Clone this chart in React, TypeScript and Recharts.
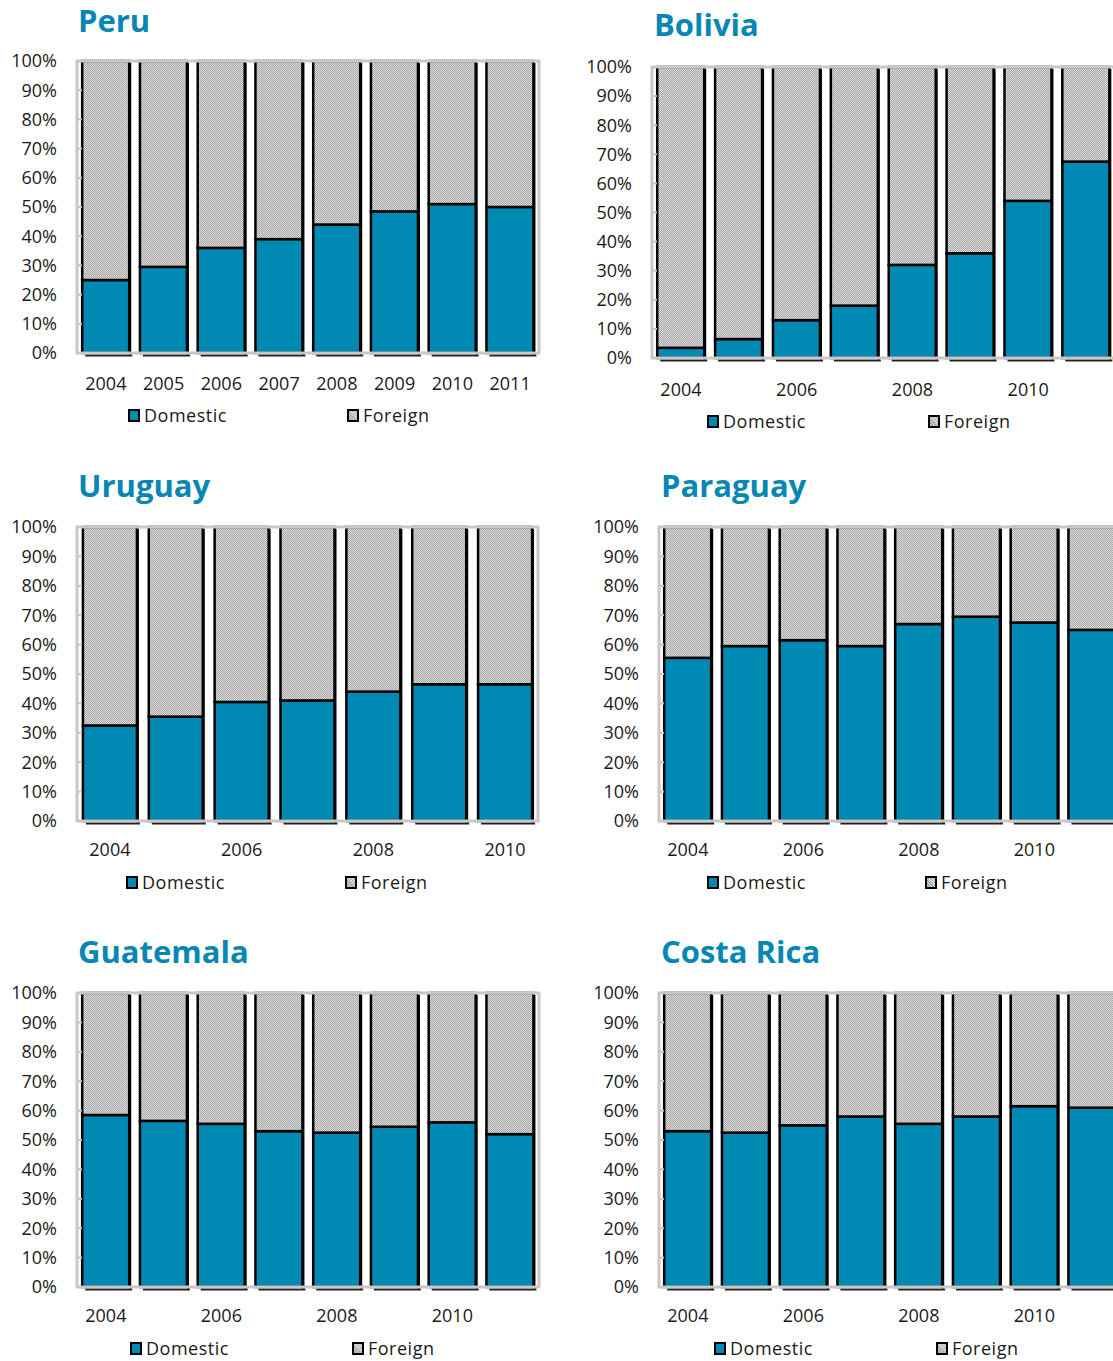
import React from "react";
import { BarChart, Bar, XAxis, YAxis, ReferenceArea } from "recharts";

const years8 = ["2004", "2005", "2006", "2007", "2008", "2009", "2010", "2011"];
const years7 = ["2004", "2005", "2006", "2007", "2008", "2009", "2010"];
const yTicks = [0, 10, 20, 30, 40, 50, 60, 70, 80, 90, 100];

const peruDomestic = [25, 29.5, 36, 39, 44, 48.5, 51, 50];
const peruForeign = [75, 70.5, 64, 61, 56, 51.5, 49, 50];

const boliviaDomestic = [3.5, 6.5, 13, 18, 32, 36, 54, 67.5];
const boliviaForeign = [96.5, 93.5, 87, 82, 68, 64, 46, 32.5];

const uruguayDomestic = [32.5, 35.5, 40.5, 41, 44, 46.5, 46.5];
const uruguayForeign = [67.5, 64.5, 59.5, 59, 56, 53.5, 53.5];

const paraguayDomestic = [55.5, 59.5, 61.5, 59.5, 67, 69.5, 67.5, 65];
const paraguayForeign = [44.5, 40.5, 38.5, 40.5, 33, 30.5, 32.5, 35];

const guatemalaDomestic = [58.5, 56.5, 55.5, 53, 52.5, 54.5, 56, 52];
const guatemalaForeign = [41.5, 43.5, 44.5, 47, 47.5, 45.5, 44, 48];

const costaRicaDomestic = [53, 52.5, 55, 58, 55.5, 58, 61.5, 61];
const costaRicaForeign = [47, 47.5, 45, 42, 44.5, 42, 38.5, 39];

const TEAL = "#0089b2";
const FONT = "'Open Sans', 'DejaVu Sans', sans-serif";

function makeRows(years: string[], dom: number[], frn: number[]) {
  return years.map((year, i) => ({ year, domestic: dom[i], foreign: frn[i] }));
}

const panels = [
  { id: "peru", title: "Peru", rows: makeRows(years8, peruDomestic, peruForeign), interval: 0,
    left: 77, right: 539, top: 61, bottom: 353, titleX: 78, titleBase: 33, xGap: 24,
    legY: 415, legD: 128, legF: 347 },
  { id: "bolivia", title: "Bolivia", rows: makeRows(years8, boliviaDomestic, boliviaForeign), interval: 1,
    left: 652, right: 1115, top: 67, bottom: 358, titleX: 654, titleBase: 37, xGap: 25,
    legY: 421, legD: 707, legF: 928 },
  { id: "uruguay", title: "Uruguay", rows: makeRows(years7, uruguayDomestic, uruguayForeign), interval: 1,
    left: 77, right: 538, top: 527, bottom: 821, titleX: 78, titleBase: 498, xGap: 22,
    legY: 882, legD: 126, legF: 345 },
  { id: "paraguay", title: "Paraguay", rows: makeRows(years8, paraguayDomestic, paraguayForeign), interval: 1,
    left: 659, right: 1121, top: 527, bottom: 821, titleX: 661, titleBase: 498, xGap: 22,
    legY: 882, legD: 707, legF: 925 },
  { id: "guatemala", title: "Guatemala", rows: makeRows(years8, guatemalaDomestic, guatemalaForeign), interval: 1,
    left: 77, right: 539, top: 993, bottom: 1287, titleX: 78, titleBase: 964, xGap: 22,
    legY: 1348, legD: 130, legF: 352 },
  { id: "costarica", title: "Costa Rica", rows: makeRows(years8, costaRicaDomestic, costaRicaForeign), interval: 1,
    left: 659, right: 1121, top: 993, bottom: 1287, titleX: 661, titleBase: 964, xGap: 22,
    legY: 1348, legD: 714, legF: 936 },
];

// bar with a small excel-like black shadow on the right (and a thin one under the bottom segment)
function ShadowBar(props: any) {
  const { x, y, width, height, fill, bottom } = props;
  if (!width || height == null || isNaN(y)) return null;
  return (
    <g>
      <rect x={x + width} y={y + 2} width={2} height={height} fill="#000" />
      {bottom && <rect x={x + 3} y={y + height + 1.5} width={width} height={2} fill="#222" />}
      <rect x={x} y={y} width={width} height={height} fill={fill} stroke="#000" strokeWidth={2.5} />
    </g>
  );
}

const hatchBg =
  "repeating-linear-gradient(45deg, #a8a8a8 0px, #a8a8a8 1px, #dcdcdc 1px, #dcdcdc 2px)";

function LegendItem({ x, y, label, foreign }: { x: number; y: number; label: string; foreign?: boolean }) {
  return (
    <div style={{ position: "absolute", left: x, top: y - 12, height: 24, display: "flex", alignItems: "center" }}>
      <div
        style={{
          width: 8,
          height: 9,
          border: "2.5px solid #000",
          background: foreign ? hatchBg : TEAL,
          marginRight: 4,
        }}
      />
      <span
        style={{ fontFamily: FONT, fontSize: 18, color: "#1a1a1a", lineHeight: "24px", letterSpacing: 0.5 }}
      >
        {label}
      </span>
    </div>
  );
}

function Panel({ p }: { p: (typeof panels)[number] }) {
  const axisW = 70;
  const mTop = 20;
  const xH = 44;
  const chartLeft = p.left - axisW;
  const chartTop = p.top - mTop;
  const width = p.right - chartLeft + 10;
  const height = mTop + (p.bottom - p.top) + xH;
  const patId = "hatch-" + p.id;
  return (
    <>
      <div
        style={{
          position: "absolute",
          left: p.titleX,
          top: p.titleBase - 0.888 * 31,
          fontFamily: FONT,
          fontWeight: 700,
          fontSize: 31,
          lineHeight: 1,
          color: "#0787b3",
          whiteSpace: "nowrap",
        }}
      >
        {p.title}
      </div>
      <div style={{ position: "absolute", left: chartLeft, top: chartTop }}>
        <BarChart
          width={width}
          height={height}
          data={p.rows}
          margin={{ top: mTop, right: 10, bottom: 0, left: 0 }}
          barCategoryGap="9%"
        >
          <defs>
            <pattern id={patId} width={2} height={2} patternUnits="userSpaceOnUse">
              <rect width={2} height={2} fill="#dcdcdc" />
              <rect width={1} height={1} fill="#a6a6a6" />
              <rect x={1} y={1} width={1} height={1} fill="#a6a6a6" />
            </pattern>
          </defs>
          <XAxis
            dataKey="year"
            interval={p.interval}
            tickLine={false}
            axisLine={false}
            tickSize={0}
            tickMargin={p.xGap}
            height={xH}
            tick={{ fill: "#1a1a1a", fontSize: 18, fontFamily: FONT }}
          />
          <YAxis
            domain={[0, 100]}
            ticks={yTicks}
            interval={0}
            width={axisW}
            tickFormatter={(v: number) => v + "%"}
            axisLine={false}
            tickSize={-5}
            tickMargin={25}
            tickLine={{ stroke: "#c4c4c4", strokeWidth: 2 }}
            tick={{ fill: "#1a1a1a", fontSize: 18, fontFamily: FONT }}
          />
          <Bar
            dataKey="domestic"
            stackId="a"
            fill={TEAL}
            isAnimationActive={false}
            shape={(s: any) => <ShadowBar {...s} bottom />}
          />
          <Bar
            dataKey="foreign"
            stackId="a"
            fill={`url(#${patId})`}
            isAnimationActive={false}
            shape={(s: any) => <ShadowBar {...s} />}
          />
          <ReferenceArea
            y1={0}
            y2={100}
            fill="none"
            stroke="#c8c8c8"
            strokeWidth={3}
            zIndex={700}
          />
        </BarChart>
      </div>
      <LegendItem x={p.legD} y={p.legY} label="Domestic" />
      <LegendItem x={p.legF} y={p.legY} label="Foreign" foreign />
    </>
  );
}

export default function App() {
  return (
    <div
      style={{
        position: "absolute",
        left: 0,
        top: 0,
        width: 1113,
        height: 1361,
        overflow: "hidden",
        background: "#fff",
      }}
    >
      {panels.map((p) => (
        <Panel key={p.id} p={p} />
      ))}
    </div>
  );
}
